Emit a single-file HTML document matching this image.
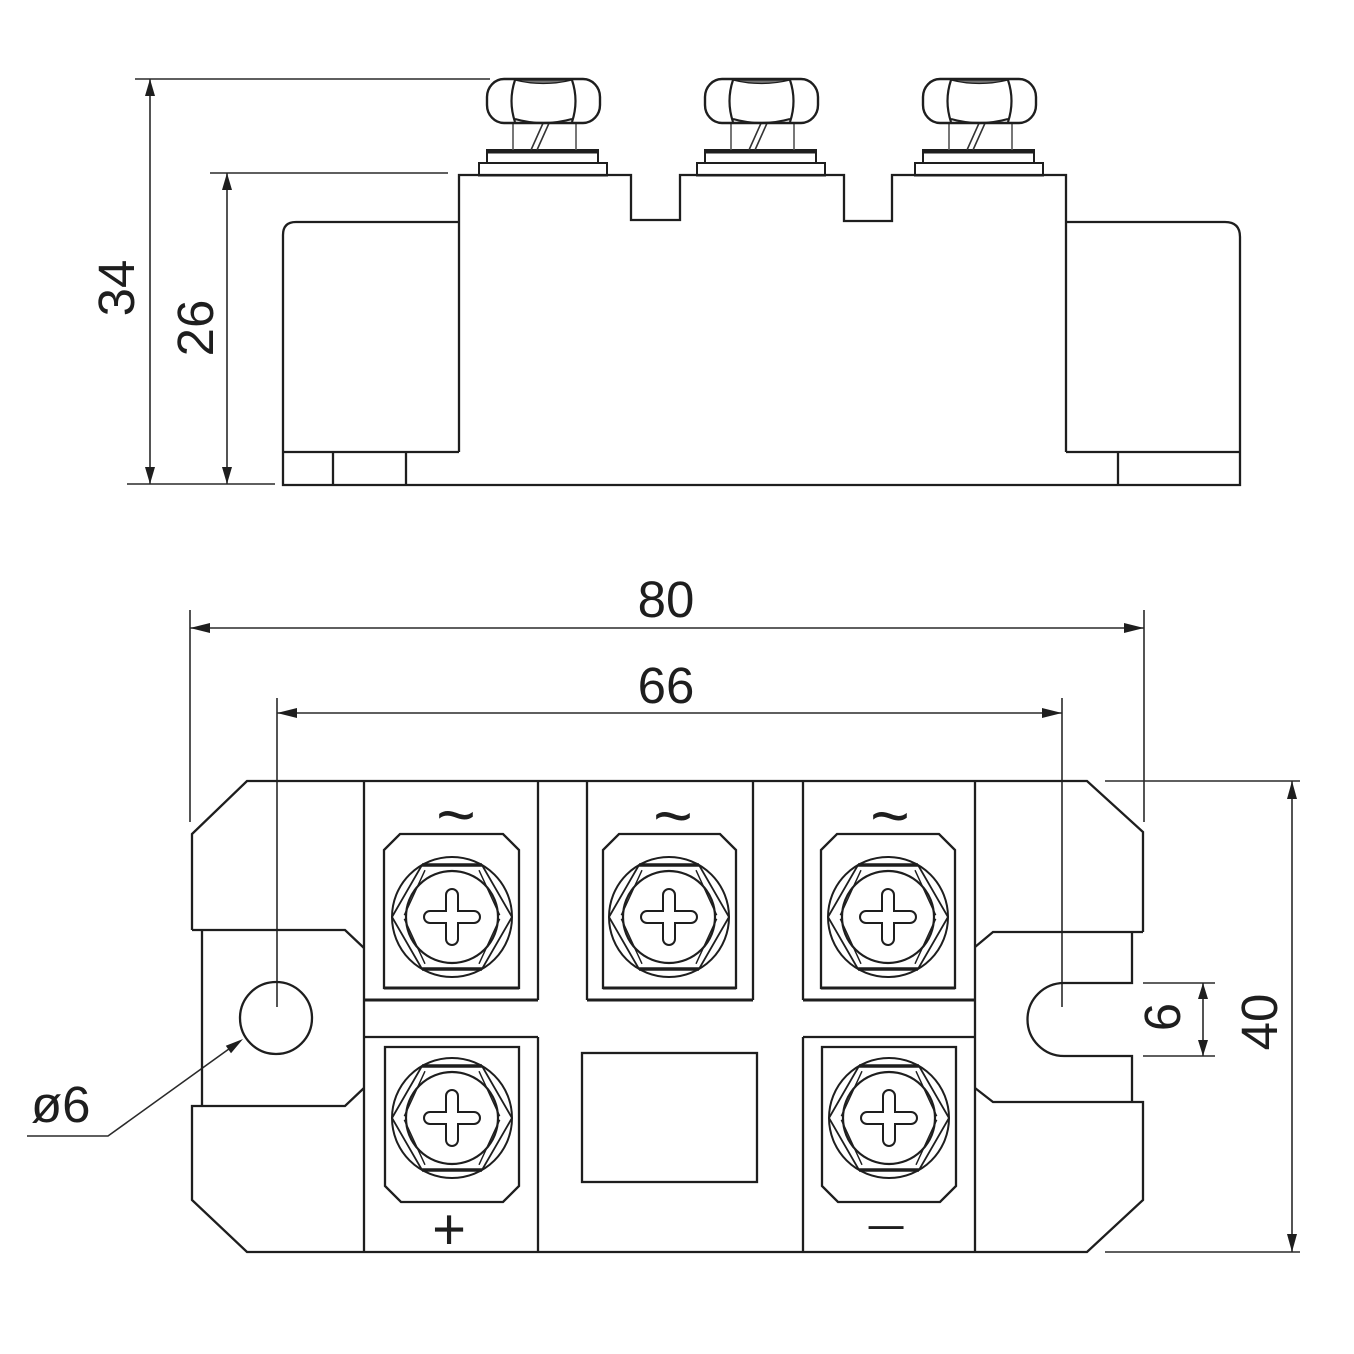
<!DOCTYPE html>
<html>
<head>
<meta charset="utf-8">
<style>
html,body{margin:0;padding:0;background:#fff;}
svg{display:block;}
text{font-family:"Liberation Sans",Arial,sans-serif;fill:#1e1e1e;}
</style>
</head>
<body>
<svg xmlns="http://www.w3.org/2000/svg" width="1354" height="1354" viewBox="0 0 1354 1354">
<rect width="1354" height="1354" fill="#fff"/>
<defs>
  <g id="nut">
    <rect x="-64" y="163" width="128" height="12.5" fill="none" stroke="#1e1e1e" stroke-width="2"/>
    <rect x="-56" y="150" width="111" height="13" fill="none" stroke="#1e1e1e" stroke-width="2"/>
    <line x1="-56" y1="151.5" x2="55" y2="151.5" stroke="#1e1e1e" stroke-width="4"/>
    <line x1="-30" y1="123" x2="-30" y2="150" stroke="#555" stroke-width="1.6"/>
    <line x1="33" y1="123" x2="33" y2="150" stroke="#555" stroke-width="1.6"/>
    <line x1="1" y1="121" x2="-12" y2="150" stroke="#333" stroke-width="1.6"/>
    <line x1="7" y1="121" x2="-6" y2="150" stroke="#333" stroke-width="1.6"/>
    <rect x="-56" y="79" width="113" height="44" rx="17" ry="18" fill="#fff" stroke="#1e1e1e" stroke-width="2.4"/>
    <path d="M-28,80 Q-35,101 -28,122 M29,80 Q36,101 29,122" fill="none" stroke="#1e1e1e" stroke-width="2.2"/>
    <path d="M-28,80 Q0,87 29,80 Z" fill="#777" stroke="#1e1e1e" stroke-width="1.2"/>
    <path d="M-28,119 Q0,127 29,119" fill="none" stroke="#1e1e1e" stroke-width="2.2"/>
  </g>
  <g id="screw">
    <circle r="60" fill="none" stroke="#1e1e1e" stroke-width="2"/>
    <polygon points="-60,0 -30,-52 30,-52 60,0 30,52 -30,52" fill="none" stroke="#1e1e1e" stroke-width="1.8"/>
    <path d="M-30,-52 L-53,-2 M30,-52 L53,-2 M-30,52 L-53,2 M30,52 L53,2" fill="none" stroke="#1e1e1e" stroke-width="1.6" transform="scale(0.9)"/>
    <line x1="-30" y1="-52" x2="30" y2="-52" stroke="#1e1e1e" stroke-width="3.5"/>
    <line x1="-30" y1="52" x2="30" y2="52" stroke="#1e1e1e" stroke-width="3.5"/>
    <circle r="46" fill="none" stroke="#1e1e1e" stroke-width="2.2"/>
    <path d="M-6,-22 A6,6 0 0 1 6,-22 L6,-6 L22,-6 A6,6 0 0 1 22,6 L6,6 L6,22 A6,6 0 0 1 -6,22 L-6,6 L-22,6 A6,6 0 0 1 -22,-6 L-6,-6 Z" fill="none" stroke="#1e1e1e" stroke-width="2"/>
  </g>
</defs>

<!-- ============ SIDE VIEW ============ -->
<g stroke="#2a2a2a" stroke-width="1.6" fill="none">
  <line x1="135" y1="79" x2="490" y2="79"/>
  <line x1="210" y1="173" x2="448" y2="173"/>
  <line x1="127" y1="484" x2="275" y2="484"/>
  <line x1="150" y1="79" x2="150" y2="484"/>
  <line x1="227" y1="173" x2="227" y2="484"/>
</g>
<g fill="#1e1e1e">
  <polygon points="150,79 145,96 155,96"/>
  <polygon points="150,484 145,467 155,467"/>
  <polygon points="227,173 222,190 232,190"/>
  <polygon points="227,484 222,467 232,467"/>
</g>
<text x="0" y="0" font-size="51" text-anchor="middle" transform="translate(134,288) rotate(-90)">34</text>
<text x="0" y="0" font-size="51" text-anchor="middle" transform="translate(213,328) rotate(-90)">26</text>

<g stroke="#1e1e1e" stroke-width="2.3" fill="none" stroke-linejoin="miter">
  <path d="M459,452 L459,175 L631,175 L631,220 L680,220 L680,175 L844,175 L844,221 L892,221 L892,175 L1066,175 L1066,452"/>
  <path d="M459,222 L296,222 Q283,222 283,235 L283,485 L1240,485 L1240,237 Q1240,222 1225,222 L1066,222"/>
  <line x1="283" y1="452" x2="459" y2="452"/>
  <line x1="1066" y1="452" x2="1240" y2="452"/>
  <line x1="333" y1="452" x2="333" y2="485"/>
  <line x1="406" y1="452" x2="406" y2="485"/>
  <line x1="1118" y1="452" x2="1118" y2="485"/>
</g>
<use href="#nut" transform="translate(543,0)"/>
<use href="#nut" transform="translate(761,0)"/>
<use href="#nut" transform="translate(979,0)"/>

<!-- ============ TOP VIEW ============ -->
<g stroke="#2a2a2a" stroke-width="1.6" fill="none">
  <line x1="190" y1="610" x2="190" y2="822"/>
  <line x1="1144" y1="610" x2="1144" y2="822"/>
  <line x1="190" y1="628" x2="1144" y2="628"/>
  <line x1="277" y1="698" x2="277" y2="1007"/>
  <line x1="1062" y1="698" x2="1062" y2="1007"/>
  <line x1="277" y1="713" x2="1062" y2="713"/>
  <line x1="1105" y1="781" x2="1300" y2="781"/>
  <line x1="1105" y1="1252" x2="1300" y2="1252"/>
  <line x1="1292" y1="781" x2="1292" y2="1252"/>
  <line x1="1143" y1="983" x2="1215" y2="983"/>
  <line x1="1143" y1="1056" x2="1215" y2="1056"/>
  <line x1="1203" y1="983" x2="1203" y2="1056"/>
  <polyline points="27,1136 108,1136 240,1041"/>
</g>
<g fill="#1e1e1e">
  <polygon points="190,628 210,623 210,633"/>
  <polygon points="1144,628 1124,623 1124,633"/>
  <polygon points="277,713 297,708 297,718"/>
  <polygon points="1062,713 1042,708 1042,718"/>
  <polygon points="1292,781 1287,799 1297,799"/>
  <polygon points="1292,1252 1287,1234 1297,1234"/>
  <polygon points="1203,983 1198,999 1208,999"/>
  <polygon points="1203,1056 1198,1040 1208,1040"/>
  <polygon points="243,1039 231,1053.2 225.8,1045.8"/>
</g>
<text x="666" y="617" font-size="51" text-anchor="middle">80</text>
<text x="666" y="703" font-size="51" text-anchor="middle">66</text>
<text x="0" y="0" font-size="51" text-anchor="middle" transform="translate(1277,1022) rotate(-90)">40</text>
<text x="0" y="0" font-size="51" text-anchor="middle" transform="translate(1180,1017) rotate(-90)">6</text>
<text x="31" y="1122" font-size="51">ø6</text>

<g stroke="#1e1e1e" stroke-width="2.3" fill="none" stroke-linejoin="miter">
  <path d="M192,930 L192,834 L247,781 L1087,781 L1143,832 L1143,932"/>
  <path d="M192,930 L345,930 L364,948"/>
  <path d="M1143,932 L993,932 L975,947"/>
  <path d="M202,930 L202,1106"/>
  <path d="M1132,932 L1132,983 L1064,983 A36.5,36.5 0 0 0 1064,1056 L1132,1056 L1132,1102"/>
  <path d="M364,1088 L345,1106 L192,1106 L192,1200 L247,1252 L1087,1252 L1143,1200 L1143,1102 L993,1102 L975,1088"/>
  <line x1="364" y1="781" x2="364" y2="1252"/>
  <line x1="975" y1="781" x2="975" y2="1252"/>
  <line x1="538" y1="781" x2="538" y2="1000"/>
  <line x1="538" y1="1037" x2="538" y2="1252"/>
  <line x1="364" y1="1000" x2="538" y2="1000" stroke-width="3"/>
  <line x1="364" y1="1037" x2="538" y2="1037"/>
  <line x1="587" y1="781" x2="587" y2="1000"/>
  <line x1="753" y1="781" x2="753" y2="1000"/>
  <line x1="587" y1="1000" x2="753" y2="1000" stroke-width="3"/>
  <line x1="803" y1="781" x2="803" y2="1000"/>
  <line x1="803" y1="1037" x2="803" y2="1252"/>
  <line x1="803" y1="1000" x2="975" y2="1000" stroke-width="3"/>
  <line x1="803" y1="1037" x2="975" y2="1037"/>
  <rect x="582" y="1053" width="175" height="129"/>
  <path d="M384,988 L384,850 L400,834 L503,834 L519,850 L519,988 Z"/>
  <path d="M603,988 L603,850 L619,834 L720,834 L736,850 L736,988 Z"/>
  <path d="M821,988 L821,850 L837,834 L939,834 L955,850 L955,988 Z"/>
  <line x1="384" y1="988" x2="519" y2="988" stroke-width="3"/>
  <line x1="603" y1="988" x2="736" y2="988" stroke-width="3"/>
  <line x1="821" y1="988" x2="955" y2="988" stroke-width="3"/>
  <path d="M385,1047 L519,1047 L519,1186 L503,1202 L401,1202 L385,1186 Z"/>
  <path d="M822,1047 L956,1047 L956,1186 L940,1202 L838,1202 L822,1186 Z"/>
  <circle cx="276" cy="1018" r="36"/>
</g>
<use href="#screw" transform="translate(452,917)"/>
<use href="#screw" transform="translate(669,917)"/>
<use href="#screw" transform="translate(888,917)"/>
<use href="#screw" transform="translate(452,1118)"/>
<use href="#screw" transform="translate(889,1118)"/>

<text x="456" y="838" font-size="68" text-anchor="middle">~</text>
<text x="673" y="839" font-size="68" text-anchor="middle">~</text>
<text x="890" y="839" font-size="68" text-anchor="middle">~</text>
<text x="449" y="1249" font-size="58" text-anchor="middle">+</text>
<text x="0" y="0" font-size="40" text-anchor="middle" transform="translate(886,1241) scale(1.8,1)">−</text>
</svg>
</body>
</html>
